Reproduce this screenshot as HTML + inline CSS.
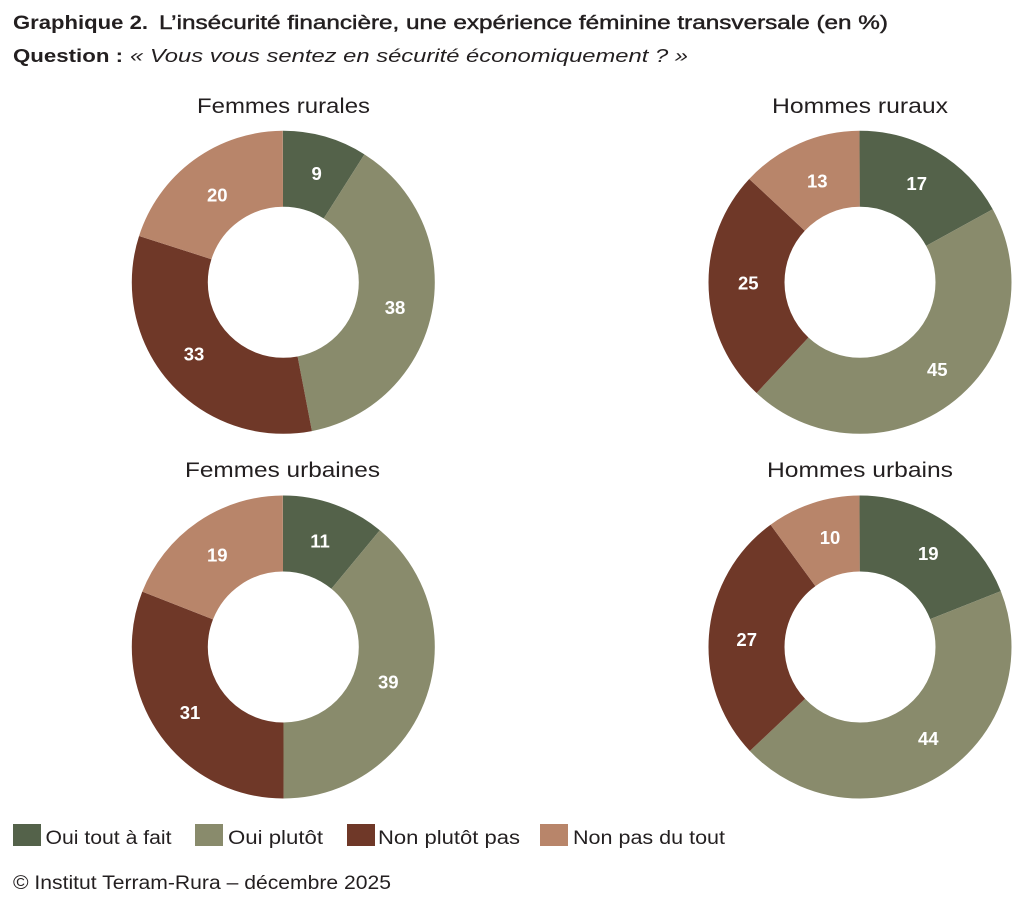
<!DOCTYPE html>
<html>
<head>
<meta charset="utf-8">
<style>
  html, body { margin: 0; padding: 0; background: #ffffff; }
  svg { display: block; }
  text { font-family: "Liberation Sans", sans-serif; fill: #231f20; }
  .lbl { font-weight: bold; font-size: 18.5px; fill: #ffffff; text-anchor: middle; }
</style>
</head>
<body>
<svg width="1024" height="901" viewBox="0 0 1024 901" xmlns="http://www.w3.org/2000/svg">
  <rect width="1024" height="901" fill="#ffffff"/>

  <!-- Title -->
  <text x="13" y="29" font-size="19" font-weight="bold" textLength="135" lengthAdjust="spacingAndGlyphs">Graphique 2.</text>
  <text x="159" y="29" font-size="19" stroke="#231f20" stroke-width="0.45" textLength="729" lengthAdjust="spacingAndGlyphs">L’insécurité financière, une expérience féminine transversale (en %)</text>

  <!-- Question -->
  <text x="13" y="62" font-size="18" font-weight="bold" textLength="110" lengthAdjust="spacingAndGlyphs">Question :</text>
  <text x="130" y="62" font-size="18" font-style="italic" textLength="558" lengthAdjust="spacingAndGlyphs">« Vous vous sentez en sécurité économiquement ? »</text>

  <!-- Chart titles -->
  <text x="197" y="113" font-size="21" textLength="173" lengthAdjust="spacingAndGlyphs">Femmes rurales</text>
  <text x="772" y="113" font-size="21" textLength="176" lengthAdjust="spacingAndGlyphs">Hommes ruraux</text>
  <text x="185" y="477" font-size="21" textLength="195" lengthAdjust="spacingAndGlyphs">Femmes urbaines</text>
  <text x="767" y="477" font-size="21" textLength="186" lengthAdjust="spacingAndGlyphs">Hommes urbains</text>

  <!-- Donut: Femmes rurales (9, 38, 33, 20) -->
  <g transform="rotate(-90 283.3 282.3)" fill="none" stroke-width="76">
    <circle cx="283.3" cy="282.3" r="113.5" pathLength="100" stroke="#54624a" stroke-dasharray="9 91" stroke-dashoffset="0"/>
    <circle cx="283.3" cy="282.3" r="113.5" pathLength="100" stroke="#898b6c" stroke-dasharray="38 62" stroke-dashoffset="-9"/>
    <circle cx="283.3" cy="282.3" r="113.5" pathLength="100" stroke="#6f3828" stroke-dasharray="33 67" stroke-dashoffset="-47"/>
    <circle cx="283.3" cy="282.3" r="113.5" pathLength="100" stroke="#b8856a" stroke-dasharray="20 80" stroke-dashoffset="-80"/>
  </g>
  <text class="lbl" x="316.7" y="180">9</text>
  <text class="lbl" x="395" y="314">38</text>
  <text class="lbl" x="194" y="360.5">33</text>
  <text class="lbl" x="217.3" y="201.5">20</text>

  <!-- Donut: Hommes ruraux (17, 45, 25, 13) -->
  <g transform="rotate(-90 860 282.3)" fill="none" stroke-width="76">
    <circle cx="860" cy="282.3" r="113.5" pathLength="100" stroke="#54624a" stroke-dasharray="17 83" stroke-dashoffset="0"/>
    <circle cx="860" cy="282.3" r="113.5" pathLength="100" stroke="#898b6c" stroke-dasharray="45 55" stroke-dashoffset="-17"/>
    <circle cx="860" cy="282.3" r="113.5" pathLength="100" stroke="#6f3828" stroke-dasharray="25 75" stroke-dashoffset="-62"/>
    <circle cx="860" cy="282.3" r="113.5" pathLength="100" stroke="#b8856a" stroke-dasharray="13 87" stroke-dashoffset="-87"/>
  </g>
  <text class="lbl" x="916.7" y="190">17</text>
  <text class="lbl" x="937.3" y="376">45</text>
  <text class="lbl" x="748.3" y="289.5">25</text>
  <text class="lbl" x="817.3" y="187.5">13</text>

  <!-- Donut: Femmes urbaines (11, 39, 31, 19) -->
  <g transform="rotate(-90 283.3 647)" fill="none" stroke-width="76">
    <circle cx="283.3" cy="647" r="113.5" pathLength="100" stroke="#54624a" stroke-dasharray="11 89" stroke-dashoffset="0"/>
    <circle cx="283.3" cy="647" r="113.5" pathLength="100" stroke="#898b6c" stroke-dasharray="39 61" stroke-dashoffset="-11"/>
    <circle cx="283.3" cy="647" r="113.5" pathLength="100" stroke="#6f3828" stroke-dasharray="31 69" stroke-dashoffset="-50"/>
    <circle cx="283.3" cy="647" r="113.5" pathLength="100" stroke="#b8856a" stroke-dasharray="19 81" stroke-dashoffset="-81"/>
  </g>
  <text class="lbl" x="320" y="547.5">11</text>
  <text class="lbl" x="388.3" y="688.5">39</text>
  <text class="lbl" x="190" y="719">31</text>
  <text class="lbl" x="217.3" y="561.5">19</text>

  <!-- Donut: Hommes urbains (19, 44, 27, 10) -->
  <g transform="rotate(-90 860 647)" fill="none" stroke-width="76">
    <circle cx="860" cy="647" r="113.5" pathLength="100" stroke="#54624a" stroke-dasharray="19 81" stroke-dashoffset="0"/>
    <circle cx="860" cy="647" r="113.5" pathLength="100" stroke="#898b6c" stroke-dasharray="44 56" stroke-dashoffset="-19"/>
    <circle cx="860" cy="647" r="113.5" pathLength="100" stroke="#6f3828" stroke-dasharray="27 73" stroke-dashoffset="-63"/>
    <circle cx="860" cy="647" r="113.5" pathLength="100" stroke="#b8856a" stroke-dasharray="10 90" stroke-dashoffset="-90"/>
  </g>
  <text class="lbl" x="928.3" y="560">19</text>
  <text class="lbl" x="928.3" y="745">44</text>
  <text class="lbl" x="746.7" y="646">27</text>
  <text class="lbl" x="830" y="544">10</text>

  <!-- Legend -->
  <rect x="13" y="824" width="28" height="22" fill="#54624a"/>
  <text x="45.5" y="844" font-size="19" textLength="126" lengthAdjust="spacingAndGlyphs">Oui tout à fait</text>
  <rect x="195" y="824" width="28" height="22" fill="#898b6c"/>
  <text x="228" y="844" font-size="19" textLength="95" lengthAdjust="spacingAndGlyphs">Oui plutôt</text>
  <rect x="347" y="824" width="28" height="22" fill="#6f3828"/>
  <text x="378" y="844" font-size="19" textLength="142" lengthAdjust="spacingAndGlyphs">Non plutôt pas</text>
  <rect x="540" y="824" width="28" height="22" fill="#b8856a"/>
  <text x="573" y="844" font-size="19" textLength="152" lengthAdjust="spacingAndGlyphs">Non pas du tout</text>

  <!-- Footer -->
  <text x="13" y="889" font-size="19" textLength="378" lengthAdjust="spacingAndGlyphs">© Institut Terram-Rura – décembre 2025</text>
</svg>
</body>
</html>
